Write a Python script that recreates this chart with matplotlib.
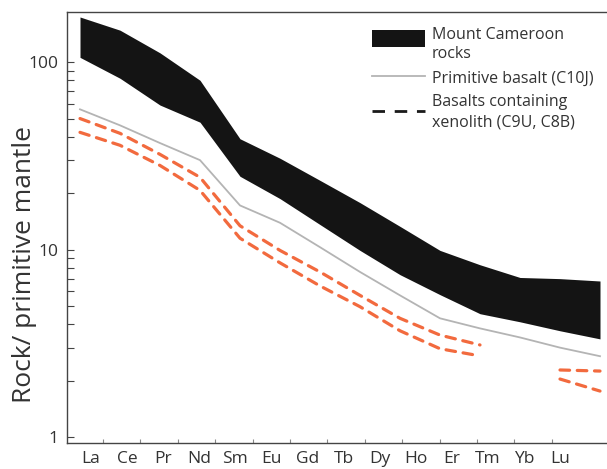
import numpy as np
import matplotlib.pyplot as plt
from matplotlib.patches import Patch, Rectangle
from matplotlib.lines import Line2D
from matplotlib.legend_handler import HandlerPatch

# REE normalised to primitive mantle
elements = ['La', 'Ce', 'Pr', 'Nd', 'Sm', 'Eu', 'Gd', 'Tb', 'Dy', 'Ho', 'Er', 'Tm', 'Yb', 'Lu']
cameroon_high = [174, 148, 112, 80, 39, 30.7, 23.4, 17.8, 13.3, 9.9, 8.3, 7.1, 7.0, 6.8]
cameroon_low = [106, 82, 59, 47.8, 24.6, 18.7, 13.6, 9.9, 7.35, 5.75, 4.55, 4.12, 3.69, 3.34]
c10j = [56, 46, 37, 30, 17.2, 13.9, 10.3, 7.6, 5.7, 4.3, 3.8, 3.4, 3.0, 2.7]
c9u = [50, 41.7, 32.2, 24.3, 13.4, 9.9, 7.6, 5.7, 4.3, 3.5, 3.1, np.nan, 2.28, 2.25]
c8b = [42.2, 36, 28.1, 20.7, 11.5, 8.5, 6.4, 4.96, 3.69, 2.96, 2.71, np.nan, 2.04, 1.76]

plt.rcParams['font.family'] = ['Open Sans', 'DejaVu Sans']
txt = '#333333'
orange = '#f26a3e'

x = np.arange(len(elements))

fig = plt.figure(figsize=(6.07, 4.69), dpi=100)
ax = fig.add_axes([67/607, 26/469, 545/607, 431/469])

ax.fill_between(x, cameroon_low, cameroon_high, color='#141414', lw=0)
ax.plot(x, c10j, color='#b4b4b4', lw=1.3)
for s in (c9u, c8b):
    ax.plot(x, s, color=orange, lw=2.3, linestyle=(0, (3.0, 2.4)), dash_capstyle='round')

ax.set_yscale('log')
ax.set_ylim(0.93, 185)
ax.set_xlim(-0.325, 13.3)

# labels sit a bit left of the data columns, as in the original figure
ax.set_xticks(0.275 + 0.902 * x)
ax.set_xticklabels(elements)
ax.set_xticks(0.575 + 0.935 * x[:-1], minor=True)
ax.tick_params(axis='x', which='major', length=0, pad=6, labelsize=12.5, colors=txt)
ax.tick_params(axis='x', which='minor', direction='in', length=3, width=0.8, color='#888888')

ax.set_yticks([1, 10, 100])
ax.set_yticklabels(['1', '10', '100'])
ax.tick_params(axis='y', which='both', direction='in', length=5, width=0.8, color='#444444')
ax.tick_params(axis='y', which='major', labelsize=12.5, labelcolor=txt, pad=6)
ax.yaxis.set_minor_formatter(plt.NullFormatter())

for sp in ('left', 'bottom', 'top'):
    ax.spines[sp].set_color('#444444')
    ax.spines[sp].set_linewidth(1.0)
ax.spines['right'].set_visible(False)

fig.text(0.04, 0.435, 'Rock/ primitive mantle', rotation=90, fontsize=19,
         color=txt, ha='center', va='center')


def raised_box(legend, orig_handle, xdescent, ydescent, width, height, fontsize):
    # box sits level with the first text line, not centred on both
    return Rectangle((-xdescent, -ydescent + 5), width, height)


handles = [Patch(facecolor='#141414', edgecolor='none'),
           Line2D([], [], color='#b4b4b4', lw=1.3),
           Line2D([], [], color='#1a1a1a', lw=2.0, linestyle=(0, (4.5, 3.5)))]
labels = ['Mount Cameroon\nrocks', 'Primitive basalt (C10J)', 'Basalts containing\nxenolith (C9U, C8B)']
leg = ax.legend(handles, labels, loc='upper left', bbox_to_anchor=(0.56, 0.966),
                frameon=False, fontsize=11.5, handlelength=3.3, handleheight=1.25,
                handletextpad=0.45, labelspacing=0.45, borderpad=0, borderaxespad=0,
                handler_map={Patch: HandlerPatch(patch_func=raised_box)})
for t in leg.get_texts():
    t.set_color(txt)
    t.set_linespacing(1.3)

fig.savefig('out.png', dpi=100)
